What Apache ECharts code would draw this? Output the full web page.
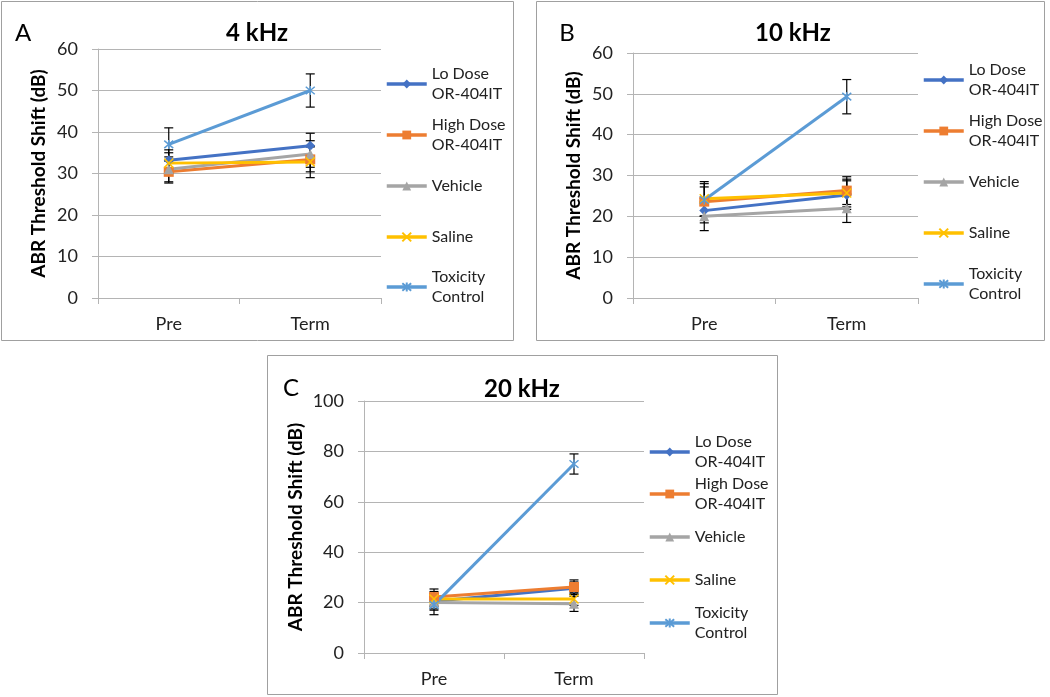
<!DOCTYPE html>
<html><head><meta charset="utf-8">
<script src="https://cdn.jsdelivr.net/npm/echarts@6/dist/echarts.min.js"></script>
<style>html,body{margin:0;padding:0;background:#fff}#c{width:1050px;height:697px}</style>
</head><body><div id="c"></div>
<script>
// ---------- data ----------
const categories = ['Pre', 'Term'];
const seriesNames = ['Lo Dose OR-404IT', 'High Dose OR-404IT', 'Vehicle', 'Saline', 'Toxicity Control'];
const panelTitles = ['4 kHz', '10 kHz', '20 kHz'];
const panelLetters = ['A', 'B', 'C'];
const yAxisName = 'ABR Threshold Shift (dB)';
const yAxisMax = [60, 60, 100];
const yAxisStep = [10, 10, 20];

// 4 kHz (mean, error)
const k4Lo = [33.2, 36.7],      k4LoErr = [2.5, 3.0];
const k4High = [30.4, 33.4],    k4HighErr = [2.7, 3.0];
const k4Vehicle = [31.0, 34.7], k4VehicleErr = [3.0, 3.2];
const k4Saline = [32.5, 32.8],  k4SalineErr = [2.5, 3.8];
const k4Tox = [37.0, 50.0],     k4ToxErr = [4.0, 4.0];
// 10 kHz
const k10Lo = [21.4, 25.2],      k10LoErr = [3.0, 3.5];
const k10High = [23.6, 26.3],    k10HighErr = [3.6, 3.4];
const k10Vehicle = [20.0, 22.0], k10VehicleErr = [3.5, 3.5];
const k10Saline = [24.3, 25.7],  k10SalineErr = [4.2, 3.4];
const k10Tox = [24.0, 49.3],     k10ToxErr = [4.0, 4.2];
// 20 kHz
const k20Lo = [20.5, 25.7],      k20LoErr = [3.0, 2.5];
const k20High = [22.2, 26.2],    k20HighErr = [3.2, 2.8];
const k20Vehicle = [20.0, 19.5], k20VehicleErr = [3.0, 3.0];
const k20Saline = [21.4, 21.4],  k20SalineErr = [3.0, 2.5];
const k20Tox = [19.1, 75.0],     k20ToxErr = [3.9, 4.0];

const panelMeans = [
  [k4Lo, k4High, k4Vehicle, k4Saline, k4Tox],
  [k10Lo, k10High, k10Vehicle, k10Saline, k10Tox],
  [k20Lo, k20High, k20Vehicle, k20Saline, k20Tox]
];
const panelErrs = [
  [k4LoErr, k4HighErr, k4VehicleErr, k4SalineErr, k4ToxErr],
  [k10LoErr, k10HighErr, k10VehicleErr, k10SalineErr, k10ToxErr],
  [k20LoErr, k20HighErr, k20VehicleErr, k20SalineErr, k20ToxErr]
];

// ---------- styles / layout ----------
const FONT = 'Lato, "Noto Sans", sans-serif';
const colors = ['#4472C4', '#ED7D31', '#A5A5A5', '#FFC000', '#5B9BD5'];
const symbols = ['diamond', 'rect', 'triangle',
  'path://M0,0L10,10M10,0L0,10',
  'path://M0,0L10,10M10,0L0,10M5,-1L5,11'];
const twoLine = [true, true, false, false, true];
const legendLabels = {
  'Lo Dose OR-404IT': 'Lo Dose\nOR-404IT',
  'High Dose OR-404IT': 'High Dose\nOR-404IT',
  'Vehicle': 'Vehicle',
  'Saline': 'Saline',
  'Toxicity Control': 'Toxicity\nControl'
};
const layout = [
  {grid: {left: 98, top: 49, width: 283, height: 249}, box: [1.5, 1.5, 512, 339],
   title: [257, 33], letter: [23, 33], legendX: 385, legendY: [84, 135, 186, 237, 287], nameGap: 50},
  {grid: {left: 633, top: 53, width: 285, height: 245}, box: [536.5, 1.5, 508, 339],
   title: [793, 33], letter: [567, 33], legendX: 922, legendY: [80, 131, 182, 233, 284], nameGap: 50},
  {grid: {left: 364, top: 401, width: 280, height: 252}, box: [267.5, 355.5, 510, 339],
   title: [522, 389], letter: [291, 388], legendX: 648, legendY: [452, 494, 537, 580, 623], nameGap: 59}
];
const gridColor = '#b4b4b4';
const textColor = '#222';

const grids = [], xAxes = [], yAxes = [], series = [], legends = [], graphics = [];

layout.forEach((L, p) => {
  grids.push(Object.assign({show: false}, L.grid));
  xAxes.push({
    type: 'category', gridIndex: p, data: categories, boundaryGap: true,
    axisLine: {lineStyle: {color: gridColor, width: 1}},
    axisTick: {show: true, length: 6, lineStyle: {color: gridColor}},
    axisLabel: {margin: 17, fontFamily: FONT, fontSize: 18, color: textColor},
    splitLine: {show: false}
  });
  yAxes.push({
    type: 'value', gridIndex: p, min: 0, max: yAxisMax[p], interval: yAxisStep[p],
    name: yAxisName, nameLocation: 'middle', nameGap: L.nameGap, nameRotate: 90,
    nameTextStyle: {fontFamily: FONT, fontSize: 19, fontWeight: 'bold', color: '#000'},
    axisLine: {show: true, lineStyle: {color: gridColor, width: 1}},
    axisTick: {show: true, length: 6, lineStyle: {color: gridColor}},
    axisLabel: {margin: 20, fontFamily: FONT, fontSize: 18, color: textColor},
    splitLine: {show: true, lineStyle: {color: gridColor, width: 1}}
  });

  // error bars
  const errRows = [];
  panelMeans[p].forEach((m, s) => {
    m.forEach((v, i) => {
      const e = panelErrs[p][s][i];
      errRows.push([i, v - e, v + e]);
    });
  });
  series.push({
    type: 'custom', name: 'errorbars-' + p, xAxisIndex: p, yAxisIndex: p, z: 1,
    silent: true, data: errRows, encode: {x: 0, y: [1, 2]},
    renderItem: function (params, api) {
      const x = api.value(0);
      const lo = api.coord([x, api.value(1)]);
      const hi = api.coord([x, api.value(2)]);
      const hw = 4.5;
      const st = {stroke: '#000', lineWidth: 1.2};
      return {type: 'group', children: [
        {type: 'line', shape: {x1: lo[0], y1: lo[1], x2: hi[0], y2: hi[1]}, style: st},
        {type: 'line', shape: {x1: lo[0] - hw, y1: lo[1], x2: lo[0] + hw, y2: lo[1]}, style: st},
        {type: 'line', shape: {x1: hi[0] - hw, y1: hi[1], x2: hi[0] + hw, y2: hi[1]}, style: st}
      ]};
    }
  });

  seriesNames.forEach((name, s) => {
    const isPath = symbols[s].indexOf('path://') === 0;
    series.push({
      type: 'line', name: name, xAxisIndex: p, yAxisIndex: p, z: 2,
      data: panelMeans[p][s],
      symbol: symbols[s], symbolSize: isPath ? 9 : 10,
      color: colors[s],
      lineStyle: {width: 3, color: colors[s]},
      itemStyle: isPath ? {color: colors[s], borderColor: colors[s], borderWidth: 1.5}
                        : {color: colors[s], borderWidth: 0}
    });

    const two = twoLine[s];
    legends.push({
      left: L.legendX, top: L.legendY[s] - (two ? 30 : 10),
      orient: 'vertical', padding: 0, itemGap: 0,
      itemWidth: 40, itemHeight: 11, selectedMode: false,
      data: [name],
      lineStyle: {width: 3.5},
      formatter: n => legendLabels[n],
      textStyle: {fontFamily: FONT, fontSize: 16, color: textColor, lineHeight: 20,
                  padding: two ? [20, 0, 0, 0] : 0}
    });
  });

  graphics.push({type: 'rect', shape: {x: L.box[0], y: L.box[1], width: L.box[2], height: L.box[3]},
    style: {fill: 'none', stroke: '#a0a0a0', lineWidth: 1}, silent: true});
  graphics.push({type: 'text', x: L.title[0], y: L.title[1],
    style: {text: panelTitles[p], font: 'bold 24px ' + FONT, fill: '#000', align: 'center', verticalAlign: 'middle'}});
  graphics.push({type: 'text', x: L.letter[0], y: L.letter[1],
    style: {text: panelLetters[p], font: '24px ' + FONT, fill: '#000', align: 'center', verticalAlign: 'middle'}});
});

const chart = echarts.init(document.getElementById('c'), null, {renderer: 'canvas'});
chart.setOption({
  animation: false,
  backgroundColor: '#fff',
  grid: grids, xAxis: xAxes, yAxis: yAxes,
  legend: legends, series: series, graphic: graphics
});
</script></body></html>
